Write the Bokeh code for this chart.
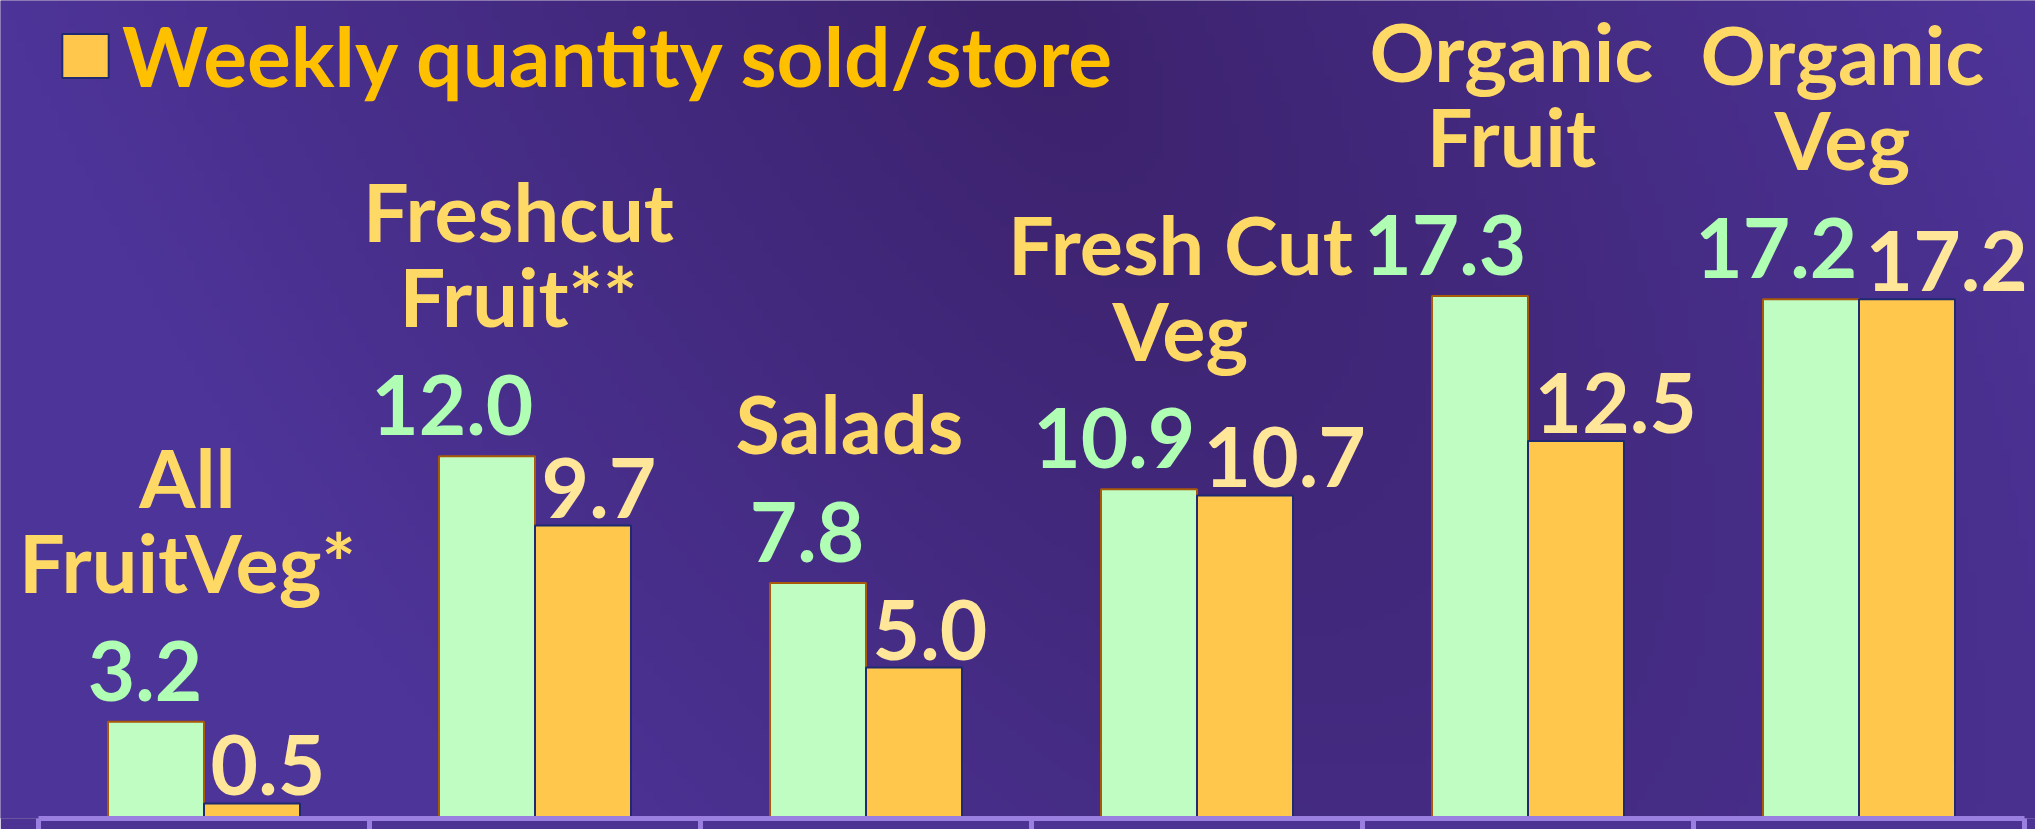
import numpy as np
from bokeh.plotting import figure
from bokeh.models import ColumnDataSource, Range1d, FixedTicker, Legend, LegendItem
from bokeh.core.properties import value
from bokeh.embed import file_html
from bokeh.resources import INLINE

# ---- data ----
categories = ["All\nFruitVeg*", "Freshcut\nFruit**", "Salads",
              "Fresh Cut\nVeg", "Organic\nFruit", "Organic\nVeg"]
green_values = [3.2, 12.0, 7.8, 10.9, 17.3, 17.2]
orange_values = [0.5, 9.7, 5.0, 10.7, 12.5, 17.2]
legend_label = "Weekly quantity sold/store"

# ---- derived positions ----
n = len(categories)
centers = np.arange(n) + 0.5
bar_w = 0.29
YMAX = 27.09
PX_PER_CAT = 331.0
X0 = -38 / PX_PER_CAT
X1 = n + 11 / PX_PER_CAT

green_src = ColumnDataSource(dict(
    x=centers - bar_w / 2, top=green_values,
    lx=centers - 0.005, txt=[f"{v:.1f}" for v in green_values]))
orange_src = ColumnDataSource(dict(
    x=centers + bar_w / 2, top=orange_values,
    lx=centers + 0.02, txt=[f"{v:.1f}" for v in orange_values]))
cat_src = ColumnDataSource(dict(
    x=centers - 0.05,
    y=[max(g, o) + 3.7 for g, o in zip(green_values, orange_values)],
    txt=categories))

p = figure(width=2035, height=829, x_range=Range1d(X0, X1), y_range=Range1d(0, YMAX),
           toolbar_location=None, output_backend="svg",
           min_border_left=0, min_border_right=0, min_border_top=0, min_border_bottom=0,
           y_axis_location=None, outline_line_color=None,
           background_fill_color="#44297f", border_fill_color="#4b3293")
p.xgrid.visible = False
p.ygrid.visible = False

# background gradient (decoration)
H, W = 120, 240
u = np.linspace(0, 1, W)[None, :]
v = np.linspace(0, 1, H)[:, None]
c = 0.5 + 0.18 * (1 - v)
t = np.clip(np.sqrt((2.0 * (u - c)) ** 2 + (0.5 * (1 - v)) ** 2), 0, 1)
dark = np.array([60, 34, 108])
light = np.array([77, 52, 152])
rgb = dark[None, None, :] + (light - dark)[None, None, :] * t[:, :, None]
img = np.empty((H, W), dtype=np.uint32)
view = img.view(dtype=np.uint8).reshape((H, W, 4))
view[:, :, 0] = rgb[:, :, 0]
view[:, :, 1] = rgb[:, :, 1]
view[:, :, 2] = rgb[:, :, 2]
view[:, :, 3] = 255
p.image_rgba(image=[img], x=X0, y=0, dw=X1 - X0, dh=YMAX, level="image")

green_r = p.vbar(x="x", top="top", width=bar_w, bottom=0, source=green_src,
                 fill_color="#c0fdc2", line_color="#a85a08", line_width=2)
orange_r = p.vbar(x="x", top="top", width=bar_w, bottom=0, source=orange_src,
                  fill_color="#ffc74b", line_color="#1f2a70", line_width=2)

p.text(x="lx", y="top", text="txt", source=green_src, text_align="right",
       text_baseline="bottom", y_offset=-21, text_color="#b0fdb4",
       text_font=value("Lato"), text_font_style="bold", text_font_size="82px")
p.text(x="lx", y="top", text="txt", source=orange_src, text_align="left",
       text_baseline="bottom", y_offset=-8, text_color="#ffe699",
       text_font=value("Lato"), text_font_style="bold", text_font_size="82px")
p.text(x="x", y="y", text="txt", source=cat_src, text_align="center",
       text_baseline="bottom", text_color="#ffd966", text_line_height=0.88,
       text_font=value("Lato"), text_font_style="bold", text_font_size="81px")

ax = p.xaxis[0]
ax.ticker = FixedTicker(ticks=list(range(n + 1)))
ax.bounds = (0, n)
ax.major_label_overrides = {i: "" for i in range(n + 1)}
ax.major_label_text_font_size = "1px"
ax.major_label_standoff = 0
ax.axis_line_color = "#9b7fe0"
ax.axis_line_width = 5
ax.major_tick_line_color = "#9b7fe0"
ax.major_tick_line_width = 5
ax.major_tick_out = 11
ax.major_tick_in = 0
ax.minor_tick_line_color = None

legend = Legend(items=[LegendItem(label=legend_label, renderers=[orange_r])],
                location=(56, 714), margin=0, padding=0, spacing=0,
                glyph_width=58, glyph_height=55, label_standoff=8,
                label_text_font="Lato", label_text_font_style="bold",
                label_text_font_size="82px", label_text_color="#ffc000",
                background_fill_alpha=0, border_line_alpha=0)
p.add_layout(legend)

open("out.html", "w").write(file_html(p, INLINE))
